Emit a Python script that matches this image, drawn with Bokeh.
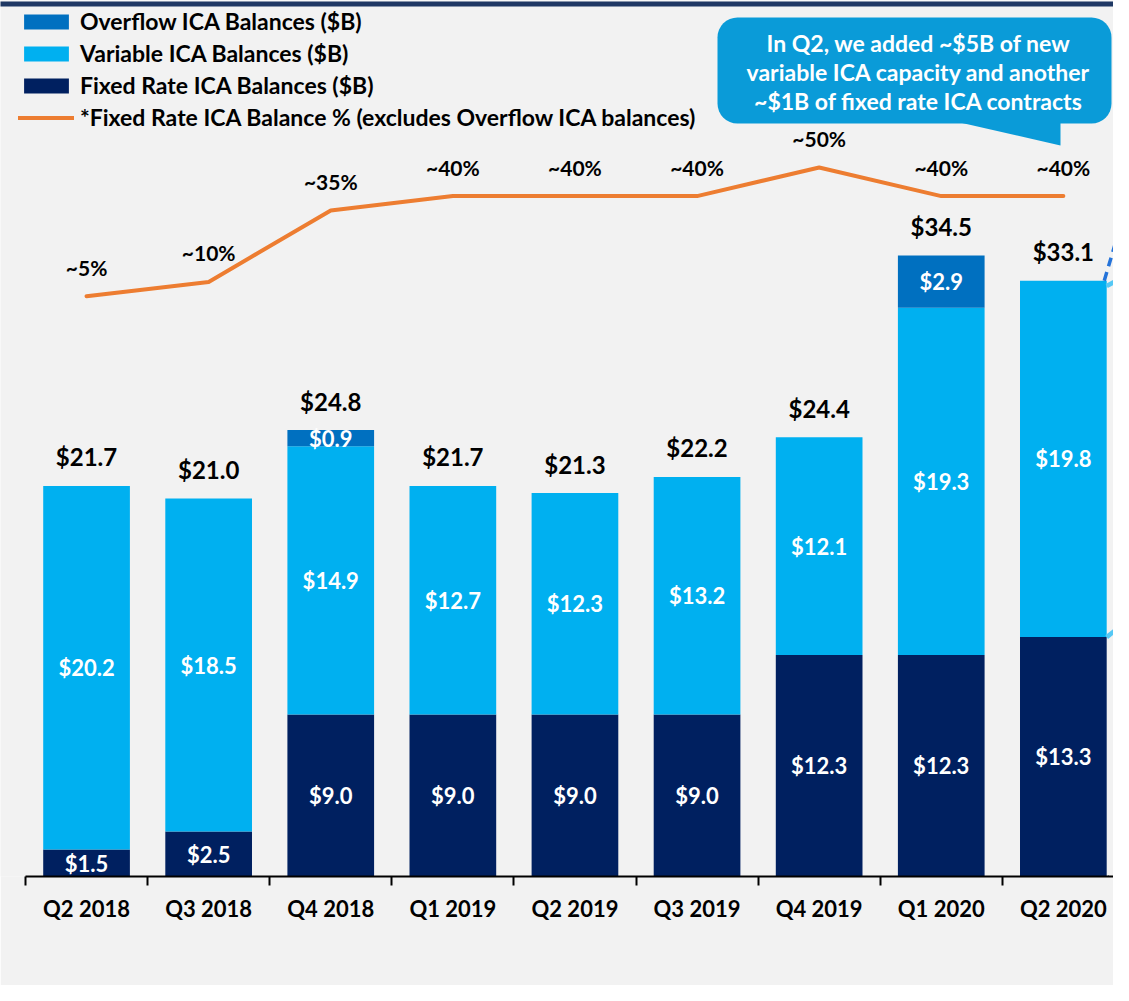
from bokeh.plotting import figure
from bokeh.models import Range1d, LinearAxis, FixedTicker, Legend, LegendItem, ColumnDataSource
from bokeh.core.properties import value
from bokeh.embed import file_html
from bokeh.resources import INLINE

# ---------------- data ----------------
categories = ["Q2 2018", "Q3 2018", "Q4 2018", "Q1 2019", "Q2 2019",
              "Q3 2019", "Q4 2019", "Q1 2020", "Q2 2020"]
fixed = [1.5, 2.5, 9.0, 9.0, 9.0, 9.0, 12.3, 12.3, 13.3]
variable = [20.2, 18.5, 14.9, 12.7, 12.3, 13.2, 12.1, 19.3, 19.8]
overflow = [0.0, 0.0, 0.9, 0.0, 0.0, 0.0, 0.0, 2.9, 0.0]
totals = [21.7, 21.0, 24.8, 21.7, 21.3, 22.2, 24.4, 34.5, 33.1]
fixed_pct = [5, 10, 35, 40, 40, 40, 50, 40, 40]
pct_labels = ["~5%", "~10%", "~35%", "~40%", "~40%", "~40%", "~50%", "~40%", "~40%"]
series_names = ["Overflow ICA Balances ($B)", "Variable ICA Balances ($B)",
                "Fixed Rate ICA Balances ($B)",
                "*Fixed Rate ICA Balance % (excludes Overflow ICA balances)"]
callout_lines = ["In Q2, we added ~$5B of new",
                 "variable ICA capacity and another",
                 "~$1B of fixed rate ICA contracts"]

# ---------------- style ----------------
NAVY = "#002060"
LIGHT = "#00b0f0"
MID = "#0070c0"
ORANGE = "#ed7d31"
BG = "#f2f2f2"
CALLOUT = "#0a9bd8"
FONT = "Lato"

W, H = 1113, 985
BASE_SY = 876            # screen y of the zero line
LEFT_SX = 25             # screen x of the left end of the axis
CAT_PX = 122.1           # px per category
UNIT_PX = 18.0           # px per $B
PCT0_SY = 310            # screen y of 0 %
PCT_PX = 2.86            # px per %

def dx(sx):
    return (sx - LEFT_SX) / CAT_PX - 0.5

def dy(sy):
    return (BASE_SY - sy) / UNIT_PX

x0, x1 = dx(0), dx(W)
ytop = dy(0)
pct_lo = (PCT0_SY - BASE_SY) / PCT_PX
pct_hi = PCT0_SY / PCT_PX

p = figure(width=W, height=H, output_backend="svg", toolbar_location=None,
           x_range=Range1d(x0, x1), y_range=Range1d(0, ytop),
           x_axis_location=None, y_axis_location=None,
           min_border_left=0, min_border_right=0, min_border_top=0,
           min_border_bottom=H - BASE_SY,
           background_fill_color=BG, border_fill_color=BG,
           outline_line_color=None)
p.grid.visible = False
p.extra_y_ranges = {"pct": Range1d(pct_lo, pct_hi)}

xs = list(range(len(categories)))
src = ColumnDataSource(dict(x=xs, fixed=fixed, variable=variable, overflow=overflow))

BW = 0.71
bars = p.vbar_stack(["fixed", "variable", "overflow"], x="x", width=BW,
                    fill_color=[NAVY, LIGHT, MID], line_color=None, source=src)

line = p.line(xs, fixed_pct, y_range_name="pct", line_color=ORANGE,
              line_width=4, line_join="round", line_cap="round")

# segment labels
sx_, sy_, st_ = [], [], []
for i in xs:
    f, v, o = fixed[i], variable[i], overflow[i]
    sx_ += [i, i]
    sy_ += [f / 2, f + v / 2]
    st_ += [f"${f:.1f}", f"${v:.1f}"]
    if o > 0:
        sx_.append(i)
        sy_.append(f + v + o / 2)
        st_.append(f"${o:.1f}")
p.text(sx_, sy_, text=st_, text_align="center", text_baseline="middle",
       text_font=value(FONT), text_font_style="bold", text_font_size="22px",
       text_color="white")

# totals
p.text(xs, totals, text=[f"${t:.1f}" for t in totals], text_align="center",
       text_baseline="middle", y_offset=-29, text_font=value(FONT),
       text_font_style="bold", text_font_size="24px", text_color="black")

# pct labels
p.text(xs, fixed_pct, text=pct_labels, y_range_name="pct", text_align="center",
       text_baseline="middle", y_offset=-29, text_font=value(FONT),
       text_font_style="bold", text_font_size="21px", text_color="black")

# x axis
ax = LinearAxis(bounds=(-0.5, len(categories) - 0.5),
                ticker=FixedTicker(ticks=xs,
                                   minor_ticks=[i - 0.5 for i in range(len(categories) + 1)]),
                major_label_overrides={i: c for i, c in enumerate(categories)},
                axis_line_color="black", axis_line_width=2,
                major_tick_line_color=None, major_tick_out=0, major_tick_in=0,
                minor_tick_line_color="black", minor_tick_line_width=2,
                minor_tick_out=9, minor_tick_in=0,
                major_label_standoff=9,
                major_label_text_font=FONT, major_label_text_font_style="bold",
                major_label_text_font_size="22px", major_label_text_color="black")
p.add_layout(ax, "below")

# top rule
p.quad(left=x0 - 1, right=x1 + 1, top=dy(1), bottom=dy(6),
       fill_color="#1f3864", line_color=None)

# callout
p.quad(left=dx(717), right=dx(1111), top=dy(17), bottom=dy(123),
       fill_color=CALLOUT, line_color=None, border_radius=20)
p.patch([dx(955), dx(1060), dx(1060)], [dy(121), dy(121), dy(145)],
        fill_color=CALLOUT, line_color=None)
p.text([dx(918)] * 3, [dy(42), dy(71), dy(100)], text=callout_lines,
       text_align="center", text_baseline="middle", text_font=value(FONT),
       text_font_style="bold", text_font_size="23px", text_color="white")

# connector lines toward the (cut-off) neighbouring chart
last = len(categories) - 1
rx = last + BW / 2
p.line([rx - 0.02, dx(1135)], [totals[last], dy(175)], line_color="#2573d9",
       line_width=3.5, line_dash="9 6")
p.line([rx, dx(1122)], [totals[last] - 0.3, dy(277)], line_color="#55c8f5", line_width=4.5)
p.line([rx, dx(1125)], [fixed[last], dy(622)], line_color="#55c8f5", line_width=4.5)
p.line([rx, dx(1119)], [0, dy(894)], line_color="#1f3864", line_width=4.5)

# legend (location measured in px from the bottom-left of the frame)
LEG_ITEM_H, LEG_SP = 28, 4
leg_h = 4 * LEG_ITEM_H + 3 * LEG_SP
legend = Legend(items=[LegendItem(label=series_names[0], renderers=[bars[2]]),
                       LegendItem(label=series_names[1], renderers=[bars[1]]),
                       LegendItem(label=series_names[2], renderers=[bars[0]]),
                       LegendItem(label=series_names[3], renderers=[line])],
                location=(18, BASE_SY - 7 - leg_h), margin=0, padding=0,
                background_fill_alpha=0, border_line_alpha=0,
                glyph_width=56, glyph_height=19, label_height=LEG_ITEM_H,
                label_standoff=6, spacing=LEG_SP,
                label_text_font=FONT, label_text_font_style="bold",
                label_text_font_size="23px", label_text_color="black")
p.add_layout(legend, "center")

open("out.html", "w").write(file_html(p, INLINE))
